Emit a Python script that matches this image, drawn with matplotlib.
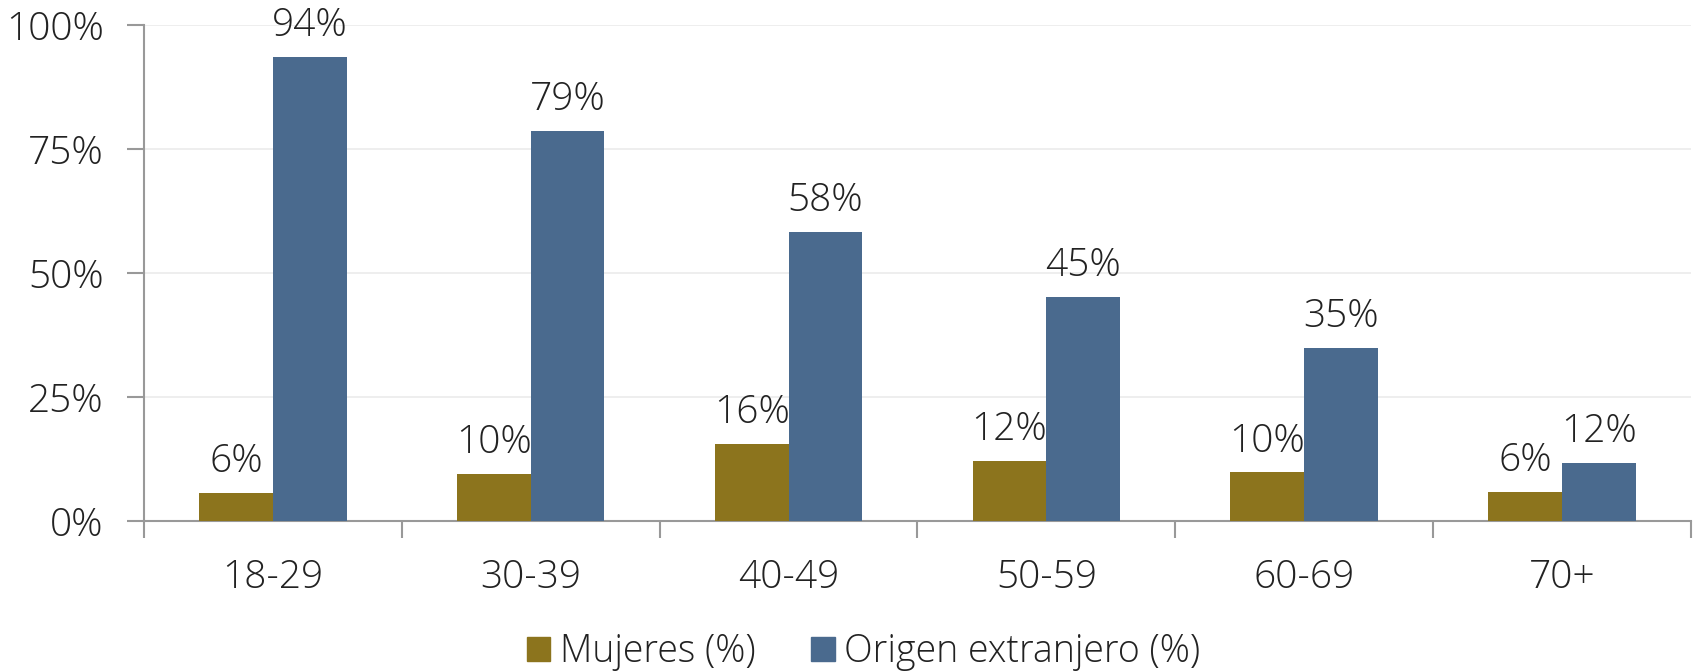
import numpy as np
import matplotlib.pyplot as plt
from matplotlib.patches import Patch

# -------------------------
# Daten
# -------------------------

categories = ["18-29", "30-39", "40-49", "50-59", "60-69", "70+"]
mujeres = [5.7, 9.5, 15.6, 12.1, 9.8, 5.8]
extranjero = [93.6, 78.6, 58.3, 45.2, 34.9, 11.7]
series_labels = ["Mujeres (%)", "Origen extranjero (%)"]

COLOR_M = "#8c741d"
COLOR_E = "#4a6a8e"
FS = 28

plt.rcParams["font.family"] = ["Open Sans", "DejaVu Sans"]

fig = plt.figure(figsize=(17, 6.71), dpi=100, facecolor="white")
ax = fig.add_axes([0.0847, 0.2235, 0.9100, 0.7392])

x = np.arange(len(categories))
w = 0.286
b1 = ax.bar(x - w / 2, mujeres, w, color=COLOR_M, zorder=3)
b2 = ax.bar(x + w / 2, extranjero, w, color=COLOR_E, zorder=3)

for bars, vals in [(b1, mujeres), (b2, extranjero)]:
    for rect, v in zip(bars, vals):
        ax.annotate(f"{v:.0f}%", (rect.get_x() + rect.get_width() / 2, v),
                    xytext=(0, 15), textcoords="offset points",
                    ha="center", va="baseline", fontsize=FS, color="#222222",
                    fontweight="light")

# Achsen
ax.set_xlim(-0.5, len(categories) - 0.5)
ax.set_ylim(0, 100)
ax.set_yticks([0, 25, 50, 75, 100])
ax.set_yticklabels([f"{t}%" for t in [0, 25, 50, 75, 100]])
ax.set_xticks(x)
ax.set_xticklabels(categories)
ax.set_xticks(np.arange(len(categories) + 1) - 0.5, minor=True)

ax.tick_params(axis="x", which="major", length=0, pad=27, labelsize=FS, labelcolor="#222222")
ax.tick_params(axis="x", which="minor", length=12, width=1.5, color="#999999")
ax.tick_params(axis="y", length=12, width=1.5, color="#999999", pad=17,
               labelsize=FS, labelcolor="#222222")
for lab in ax.get_xticklabels() + ax.get_yticklabels():
    lab.set_fontweight("light")

ax.grid(axis="y", color="#ebebeb", linewidth=1.2, zorder=0)
for s in ["top", "right"]:
    ax.spines[s].set_visible(False)
for s in ["left", "bottom"]:
    ax.spines[s].set_color("#999999")
    ax.spines[s].set_linewidth(1.5)

handles = [Patch(color=COLOR_M), Patch(color=COLOR_E)]
leg = fig.legend(handles, series_labels, loc="center", bbox_to_anchor=(0.508, 0.028),
                 ncol=2, frameon=False, prop={"size": 27, "weight": "light"},
                 handlelength=0.62, handleheight=0.62, handletextpad=0.25, columnspacing=1.5)
for t in leg.get_texts():
    t.set_color("#222222")

fig.savefig("out.png", dpi=100, facecolor="white")
